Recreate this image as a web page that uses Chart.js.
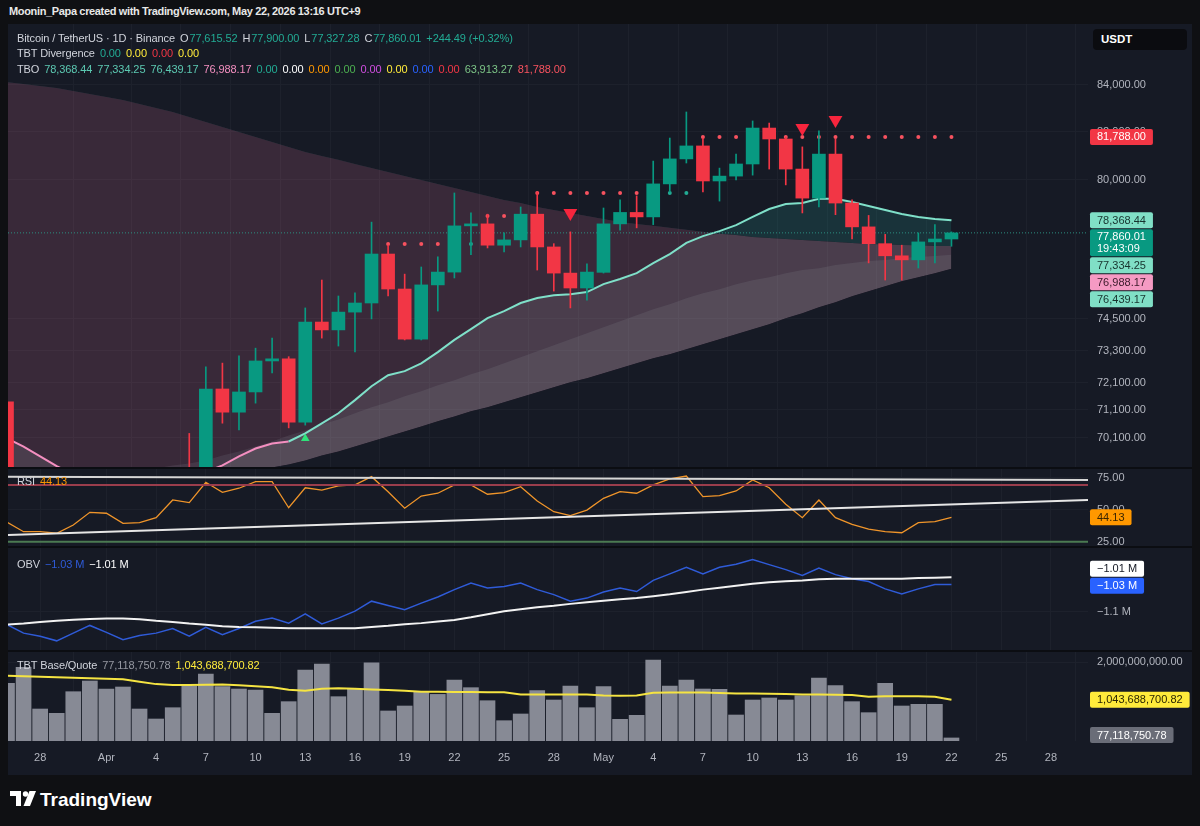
<!DOCTYPE html>
<html>
<head>
<meta charset="utf-8">
<script src="https://cdn.jsdelivr.net/npm/chart.js@4/dist/chart.umd.min.js"></script>
<style>
  html, body { margin: 0; padding: 0; }
  body { width: 1200px; height: 826px; background: #0f1013; position: relative; overflow: hidden; font-family: "Liberation Sans", Arial, sans-serif; }
  #frame { position: absolute; left: 8px; top: 24px; width: 1184px; height: 751px; background: #161a25; }
  canvas { position: absolute; left: 8px; }
  .sep { position: absolute; left: 8px; width: 1184px; height: 2px; background: #0b0d12; }
  .lg { position: absolute; left: 17px; font-size: 11px; letter-spacing: -0.1px; color: #d1d4dc; white-space: nowrap; line-height: 14px; }
  .lg b { font-weight: normal; margin-left: 5px; }
  .lg i { font-style: normal; margin-left: 5px; }
  .lg i + b { margin-left: 1px; }
  #hdr { position: absolute; left: 9px; top: 5px; font-size: 11px; letter-spacing: -0.35px; color: #e8e8e8; font-weight: bold; }
  #usdt { position: absolute; left: 1093px; top: 29px; width: 94px; height: 21px; background: #0b0c10; border-radius: 4px; color: #fff; font-size: 11.5px; font-weight: bold; line-height: 21px; padding-left: 8px; box-sizing: border-box; }
  #logo { position: absolute; left: 10px; top: 789px; color: #fff; font-size: 19px; font-weight: bold; }
  #logo svg { position: absolute; left: 0; top: 2px; }
  #logo span { position: absolute; left: 30px; top: 0; }
</style>
</head>
<body>
<div id="hdr">Moonin_Papa created with TradingView.com, May 22, 2026 13:16 UTC+9</div>
<div id="frame"></div>
<canvas id="cMain" width="1184" height="443" style="top:24px"></canvas>
<div class="sep" style="top:467px"></div>
<canvas id="cRsi" width="1184" height="77" style="top:469px"></canvas>
<div class="sep" style="top:546px"></div>
<canvas id="cObv" width="1184" height="102" style="top:548px"></canvas>
<div class="sep" style="top:650px"></div>
<canvas id="cVol" width="1184" height="123" style="top:652px"></canvas>
<div class="lg" id="lg1" style="top:31px"></div>
<div class="lg" id="lg2" style="top:46px"></div>
<div class="lg" id="lg3" style="top:62px"></div>
<div class="lg" id="lgRsi" style="top:474px"></div>
<div class="lg" id="lgObv" style="top:557px"></div>
<div class="lg" id="lgVol" style="top:658px"></div>
<div id="usdt">USDT</div>
<div id="logo">
  <svg width="26" height="16" viewBox="0 0 26 16"><path d="M0 0H11V15H6V5H0Z" fill="#fff"/><circle cx="15.5" cy="3" r="2.7" fill="#fff"/><path d="M19.5 0H26L20 15H13.5Z" fill="#fff"/></svg>
  <span>TradingView</span>
</div>
<script>
// daily candles, 26 Mar .. 22 May (index 0 = 26 Mar)
const opens  = [71400,68700,67300,67500,66500,67700,68500,68300,67200,67300,
                67800,68800,68500,71870,71020,71760,72910,72990,70660,74380,
                74080,74760,75110,77020,75650,73730,75810,76310,78140,78220,
                77370,77580,78610,77300,76270,75690,76300,78220,78680,78500,
                79840,80870,81410,79960,80160,80660,82160,81700,80450,79260,
                81070,79060,78100,77430,76950,76790,77500,77615.52];
const highs  = [71450,68950,67800,67700,68000,68800,68700,68400,67600,68000,
                68950,70250,72690,72830,73100,73390,73770,73070,74920,76000,
                75380,75500,78290,77370,76230,76510,76910,79470,78660,78610,
                77860,78900,79510,77430,77900,76630,78860,79190,79350,80780,
                81740,82840,81740,80490,81070,82460,82370,81780,81370,82040,
                81700,79190,78560,77800,77370,77860,78190,77900.00];
const lows   = [68300,66900,66600,66200,66300,67400,67600,66900,66800,67100,
                67600,68200,68300,70620,70380,71350,72460,70450,70550,73770,
                73470,73250,74500,75380,73700,73700,74800,76080,76990,77260,
                77100,77300,76390,75570,74920,75220,76270,77970,78060,78190,
                79510,80700,79510,79140,80000,80200,80450,79800,78660,78900,
                78590,77620,76670,76000,76000,76470,76670,77327.28];
const closes = [68700,67300,67500,66500,67700,68500,68300,67200,67300,67800,
                68800,68500,71870,71020,71760,72910,72990,70660,74380,74080,
                74760,75110,77020,75650,73730,75810,76310,78140,78220,77370,
                77580,78610,77300,76270,75690,76310,78220,78680,78500,79840,
                80870,81410,79960,80160,80660,82160,81700,80450,79260,81070,
                79060,78100,77430,76950,76790,77500,77615.52,77860.01];

// TBO band lines
const tboUpper = [84120,84040,83950,83870,83740,83610,83480,83350,83180,83010,
                  82840,82630,82420,82200,81990,81780,81570,81370,81160,80990,
                  80830,80660,80490,80330,80160,80000,79840,79670,79510,79350,
                  79180,79060,78900,78780,78660,78540,78420,78300,78220,78140,
                  78060,77980,77900,77820,77780,77700,77660,77620,77580,77540,
                  77500,77460,77420,77410,77380,77370,77340,77334.25];
const tboMid   = [68155,68259,68329,68435,68540,68610,68716,68822,68893,68999,
                  69106,69176,69283,69461,69604,69784,69963,70179,70359,70577,
                  70758,70977,71196,71379,71599,71783,72005,72190,72413,72599,
                  72824,73049,73274,73500,73727,73955,74183,74412,74641,74872,
                  75064,75296,75489,75645,75839,75995,76112,76269,76387,76465,
                  76584,76662,76741,76780,76859,76899,76939,76988.17];
const tboLower = [67180,67283,67422,67526,67630,67770,67874,67979,68119,68224,
                  68329,68435,68540,68646,68787,68893,69035,69141,69283,69461,
                  69604,69784,69963,70143,70323,70504,70686,70867,71050,71196,
                  71379,71562,71746,71931,72116,72264,72450,72636,72824,73011,
                  73161,73349,73538,73727,73917,74106,74297,74526,74718,74949,
                  75141,75373,75567,75761,75956,76112,76269,76439.17];
const tboFast  = [70070,69780,69430,69080,68800,68650,68550,68500,68480,68520,
                  68650,68650,68870,69110,69430,69710,69890,69960,70250,70610,
                  70980,71460,71970,72380,72530,72820,73240,73700,74110,74530,
                  74800,75110,75300,75410,75450,75530,75840,76040,76270,76660,
                  77020,77460,77730,77930,78170,78500,78820,79020,79060,79230,
                  79230,79100,78940,78780,78620,78500,78420,78368.44];
const fastTurn = 17;

// TBO level dots and signals
const dotsRed = [null,null,null,null,null,null,null,null,null,null,
                 null,null,null,null,null,null,null,null,null,null,
                 null,null,null,77420,77420,77420,77420,null,null,78540,
                 78540,null,79470,79470,79470,79470,79470,79470,79470,null,
                 null,null,81788,81788,81788,81788,81788,81788,81788,81788,
                 81788,81788,81788,81788,81788,81788,81788,81788];
const dotsGreen = [null,null,null,null,null,null,null,null,null,null,
                   null,null,null,null,null,null,null,null,null,null,
                   null,null,null,null,null,null,null,null,77420,null,
                   null,null,null,null,null,null,null,null,null,null,
                   79470,79470,null,null,null,null,null,null,null,null,
                   null,null,null,null,null,null,null,null];
const sellDay = [34, 48, 50];
const sellAt  = [78660, 82160, 82500];
const buyDay  = [18];
const buyAt   = [70070];

// lower panes
const rsi = [40.2,32.8,32.8,31.6,38.1,48.0,47.3,39.4,39.9,43.8,
             57.7,55.6,71.6,63.7,66.9,72.1,72.1,51.6,67.3,65.5,
             68.7,69.5,76.0,64.2,51.2,60.8,63.0,69.5,69.5,62.2,
             63.4,68.1,56.9,48.5,45.4,49.8,59.0,64.2,63.0,69.5,
             74.2,76.5,60.3,61.1,64.8,73.4,67.3,54.3,43.8,57.7,
             43.8,38.6,34.9,32.8,32.0,39.9,40.7,44.13];
const rsiTopTrend = [76.0, 73.4];
const rsiLowTrend = [30.2, 57.7];
const rsiRed = 69.5, rsiGreen = 25;

const obv = [-1.133,-1.155,-1.163,-1.175,-1.155,-1.135,-1.153,-1.172,-1.161,-1.155,
             -1.143,-1.163,-1.140,-1.159,-1.143,-1.124,-1.116,-1.129,-1.105,-1.131,
             -1.116,-1.098,-1.072,-1.083,-1.094,-1.077,-1.061,-1.042,-1.025,-1.038,
             -1.034,-1.025,-1.042,-1.055,-1.072,-1.064,-1.048,-1.038,-1.047,-1.018,
             -1.001,-0.984,-1.001,-0.984,-0.976,-0.964,-0.977,-0.990,-1.005,-0.986,
             -1.003,-1.014,-1.021,-1.040,-1.053,-1.040,-1.029,-1.029];
const obvMA = [-1.133,-1.130,-1.126,-1.123,-1.120,-1.118,-1.117,-1.117,-1.119,-1.123,
               -1.126,-1.130,-1.133,-1.137,-1.139,-1.140,-1.141,-1.142,-1.142,-1.142,
               -1.142,-1.142,-1.139,-1.136,-1.132,-1.129,-1.125,-1.121,-1.114,-1.106,
               -1.098,-1.093,-1.088,-1.084,-1.079,-1.075,-1.071,-1.067,-1.064,-1.059,
               -1.054,-1.048,-1.042,-1.037,-1.032,-1.027,-1.023,-1.020,-1.018,-1.015,
               -1.014,-1.014,-1.014,-1.014,-1.014,-1.012,-1.011,-1.010];

const volume = [1.46,1.866,0.81,0.70,1.248,1.519,1.316,1.367,0.81,0.557,
                0.843,1.392,1.696,1.375,1.316,1.291,0.70,0.996,1.797,1.949,
                1.122,1.308,1.982,0.76,0.886,1.248,1.18,1.544,1.35,1.02,
                0.514,0.684,1.274,1.038,1.392,0.843,1.375,0.549,0.65,2.05,
                1.392,1.544,1.316,1.308,0.658,1.038,1.089,1.038,1.147,1.595,
                1.401,0.996,0.717,1.46,0.886,0.928,0.928,0.07711875078];
const volMA = [1.653,1.640,1.628,1.615,1.603,1.590,1.576,1.562,1.500,1.440,
               1.420,1.420,1.425,1.430,1.410,1.385,1.359,1.300,1.274,1.320,
               1.334,1.320,1.305,1.291,1.270,1.248,1.245,1.240,1.238,1.235,
               1.232,1.180,1.175,1.180,1.178,1.175,1.150,1.145,1.150,1.223,
               1.230,1.228,1.225,1.215,1.205,1.200,1.195,1.190,1.180,1.175,
               1.170,1.165,1.122,1.130,1.135,1.130,1.120,1.04368870082];

// axis ticks
const tickDays   = [2,6,9,12,15,18,21,24,27,30,33,36,39,42,45,48,51,54,57,60,63];
const tickLabels = ['28','Apr','4','7','10','13','16','19','22','25','28','May','4','7','10','13','16','19','22','25','28'];
const priceTicks = [84000,82000,80000,74500,73300,72100,71100,70100];
const rsiTicks = [75,50,25];
const obvTicks = [-1.1];
const volTicks = [2];

// ---- layout / style
const X_MIN = 0.06, X_MAX = 65.24, AXW = 104;
const GRID = '#1d212c', TXT = '#b2b5be';
const UP = '#089981', DN = '#f23645';
const N = closes.length;
const f2 = v => v.toLocaleString('en-US', {minimumFractionDigits: 2, maximumFractionDigits: 2});
const pts = arr => arr.map((v, i) => ({x: i, y: v})).filter(p => p.y !== null);
const ends = (a, b) => [{x: X_MIN, y: a}, {x: X_MAX, y: b}];

Chart.defaults.font.family = '"Liberation Sans", Arial, sans-serif';
Chart.defaults.animation = false;
Chart.defaults.events = [];
Chart.defaults.plugins.legend.display = false;
Chart.defaults.plugins.tooltip.enabled = false;
const LAYOUT = {padding: 0, autoPadding: false};

function xScale(showTicks) {
  return {
    type: 'linear', min: X_MIN, max: X_MAX, offset: false,
    grid: {color: GRID, drawTicks: false}, border: {display: false},
    afterBuildTicks: s => { s.ticks = tickDays.map(v => ({value: v})); },
    afterFit: s => { s.height = showTicks ? 34 : 0; s.paddingLeft = 0; s.paddingRight = 0; },
    ticks: {display: showTicks, color: TXT, font: {size: 11}, padding: 10, maxRotation: 0, autoSkip: false,
            callback: (v, i) => tickLabels[i]}
  };
}
function yScale(extra, tickVals, fmt) {
  return Object.assign({
    position: 'right',
    afterFit: s => { s.width = AXW; s.paddingTop = 0; s.paddingBottom = 0; },
    afterBuildTicks: s => { s.ticks = tickVals.map(v => ({value: v})); },
    grid: {color: GRID, drawTicks: false}, border: {display: false},
    ticks: {color: TXT, font: {size: 11}, padding: 9, autoSkip: false, callback: fmt}
  }, extra);
}
function axisBoxes(items, nudge) {
  return {
    id: 'axisBoxes',
    afterDraw(chart) {
      const ctx = chart.ctx, sc = chart.scales.y, area = chart.chartArea;
      ctx.save();
      ctx.font = '11px "Liberation Sans", Arial, sans-serif';
      ctx.textBaseline = 'middle';
      let prev = -1e9;
      items.forEach(it => {
        const h = it.sub ? 27 : 16;
        let top = Math.max(sc.getPixelForValue(it.v) - h / 2, prev + 1);
        prev = top + h;
        top = Math.min(top + nudge, area.bottom + 2 - h);
        const lines = it.sub ? [it.t, it.sub] : [it.t];
        const w = Math.max(...lines.map(s => ctx.measureText(s).width)) + 14;
        ctx.fillStyle = it.bg;
        ctx.beginPath(); ctx.roundRect(area.right + 2, top, w, h, 2); ctx.fill();
        ctx.fillStyle = it.fg;
        lines.forEach((s, k) => ctx.fillText(s, area.right + 9, top + (it.sub ? 7.5 + k * 12 : h / 2 + 0.5)));
      });
      ctx.restore();
    }
  };
}

// ---- main pane
const candleCol = closes.map((c, i) => c >= opens[i] ? UP : DN);
const fastClamp = tboFast.map((v, i) => Math.min(v, tboUpper[i]));
const clear = 'rgba(0,0,0,0)';
const MINT = '#80dfc6';

new Chart(document.getElementById('cMain'), {
  type: 'bar',
  data: {datasets: [
    {type: 'line', data: pts(tboUpper), borderWidth: 0, pointRadius: 0, order: 30,
     fill: {target: 2, above: 'rgba(202,106,142,0.2)', below: 'rgba(202,106,142,0.2)'}},
    {type: 'line', data: pts(tboMid), borderWidth: 0, pointRadius: 0, order: 27,
     fill: {target: 2, above: 'rgba(185,195,205,0.10)', below: clear}},
    {type: 'line', data: pts(tboLower), borderWidth: 0, pointRadius: 0, order: 31, fill: false},
    {type: 'line', data: pts(fastClamp), borderWidth: 0, pointRadius: 0, order: 29,
     fill: {target: 2, above: 'rgba(165,182,185,0.15)', below: clear}},
    {type: 'line', data: pts(tboFast), borderWidth: 0, pointRadius: 0, order: 28,
     fill: {target: 0, above: 'rgba(38,166,154,0.18)', below: clear}},
    {type: 'line', data: pts(tboFast), borderWidth: 2, pointRadius: 0, order: 20, fill: false,
     segment: {borderColor: c => c.p0DataIndex < fastTurn ? '#f48fc0' : '#7fe0c9'}},
    {type: 'line', data: ends(closes[N - 1], closes[N - 1]), borderColor: '#2c8f80', borderWidth: 1,
     borderDash: [1, 2], pointRadius: 0, order: 19, fill: false},
    {type: 'line', data: pts(dotsRed), showLine: false, pointRadius: 2, pointBorderWidth: 0,
     pointBackgroundColor: '#f7525f', order: 15},
    {type: 'line', data: pts(dotsGreen), showLine: false, pointRadius: 2, pointBorderWidth: 0,
     pointBackgroundColor: '#22ab94', order: 15},
    {type: 'bar', data: lows.map((l, i) => ({x: i, y: [l, highs[i]]})), backgroundColor: candleCol,
     barThickness: 1, grouped: false, order: 10},
    {type: 'bar', data: opens.map((o, i) => ({x: i, y: [o, closes[i]]})), backgroundColor: candleCol,
     barThickness: 13, minBarLength: 1, grouped: false, order: 9},
    {type: 'line', data: sellDay.map((d, i) => ({x: d, y: sellAt[i]})), showLine: false, pointStyle: 'triangle',
     rotation: 180, pointRadius: 8, pointBorderWidth: 0, pointBackgroundColor: '#f7253d', order: 5},
    {type: 'line', data: buyDay.map((d, i) => ({x: d, y: buyAt[i]})), showLine: false, pointStyle: 'triangle',
     pointRadius: 5, pointBorderWidth: 0, pointBackgroundColor: '#2ee37a', order: 5}
  ]},
  options: {
    responsive: false, devicePixelRatio: 1, layout: LAYOUT,
    scales: {
      x: xScale(false),
      y: yScale({type: 'logarithmic', min: 69051, max: 86663}, priceTicks, v => f2(v))
    }
  },
  plugins: [axisBoxes([
    {v: dotsRed[N - 1], t: f2(dotsRed[N - 1]), bg: '#f23645', fg: '#ffffff'},
    {v: tboFast[N - 1], t: f2(tboFast[N - 1]), bg: MINT, fg: '#17332e'},
    {v: closes[N - 1], t: f2(closes[N - 1]), sub: '19:43:09', bg: '#089981', fg: '#ffffff'},
    {v: tboUpper[N - 1], t: f2(tboUpper[N - 1]), bg: MINT, fg: '#17332e'},
    {v: tboMid[N - 1], t: f2(tboMid[N - 1]), bg: '#f59ac3', fg: '#3a1a2a'},
    {v: tboLower[N - 1], t: f2(tboLower[N - 1]), bg: MINT, fg: '#17332e'}
  ], 0)]
});

// ---- RSI pane
new Chart(document.getElementById('cRsi'), {
  type: 'line',
  data: {datasets: [
    {data: ends(rsiTopTrend[0], rsiTopTrend[1]), borderColor: '#d6d6d6', borderWidth: 2, pointRadius: 0},
    {data: ends(rsiRed, rsiRed), borderColor: '#9a3d4c', borderWidth: 2, pointRadius: 0},
    {data: ends(rsiGreen, rsiGreen), borderColor: '#4b7a52', borderWidth: 2, pointRadius: 0},
    {data: ends(rsiLowTrend[0], rsiLowTrend[1]), borderColor: '#e6e6e6', borderWidth: 2, pointRadius: 0},
    {data: pts(rsi), borderColor: '#f0952a', borderWidth: 1.3, pointRadius: 0}
  ]},
  options: {
    responsive: false, devicePixelRatio: 1, layout: LAYOUT,
    scales: {x: xScale(false), y: yScale({min: 21.6, max: 82.0}, rsiTicks, v => f2(v))}
  },
  plugins: [axisBoxes([{v: rsi[N - 1], t: f2(rsi[N - 1]), bg: '#ff9800', fg: '#3a2500'}], 0)]
});

// ---- OBV pane
const fm = v => (v < 0 ? '\u2212' : '') + Math.abs(v).toFixed(2).replace(/0$/, '') + ' M';
new Chart(document.getElementById('cObv'), {
  type: 'line',
  data: {datasets: [
    {data: pts(obvMA), borderColor: '#f2f2f2', borderWidth: 2, pointRadius: 0},
    {data: pts(obv), borderColor: '#2f5bd8', borderWidth: 1.5, pointRadius: 0}
  ]},
  options: {
    responsive: false, devicePixelRatio: 1, layout: LAYOUT,
    scales: {x: xScale(false), y: yScale({min: -1.1988, max: -0.9339}, obvTicks, v => fm(v))}
  },
  plugins: [axisBoxes([
    {v: obvMA[N - 1], t: fm(obvMA[N - 1]), bg: '#ffffff', fg: '#131722'},
    {v: obv[N - 1], t: fm(obv[N - 1]), bg: '#2962ff', fg: '#ffffff'}
  ], -8.5)]
});

// ---- volume pane (values in billions)
const fv = v => f2(v * 1e9);
new Chart(document.getElementById('cVol'), {
  type: 'bar',
  data: {datasets: [
    {type: 'line', data: pts(volMA), borderColor: '#f5e442', borderWidth: 2, pointRadius: 0, order: 1},
    {data: pts(volume), backgroundColor: '#878a95', barThickness: 15, grouped: false, order: 2}
  ]},
  options: {
    responsive: false, devicePixelRatio: 1, layout: LAYOUT,
    scales: {x: xScale(true), y: yScale({min: 0, max: 2.2532}, volTicks, v => fv(v))}
  },
  plugins: [axisBoxes([
    {v: volMA[N - 1], t: fv(volMA[N - 1]), bg: '#ffeb3b', fg: '#2a2600'},
    {v: volume[N - 1], t: fv(volume[N - 1]), bg: '#6a6d78', fg: '#ffffff'}
  ], 0)]
});

// ---- legends
const b = (t, c) => `<b style="color:${c}">${t}</b>`;
const k = t => `<i>${t}</i>`;
const G = '#22ab94';
const chg = closes[N - 1] - closes[N - 2];
document.getElementById('lg1').innerHTML = 'Bitcoin / TetherUS \u00b7 1D \u00b7 Binance' +
  k('O') + b(f2(opens[N - 1]), G) + k('H') + b(f2(highs[N - 1]), G) +
  k('L') + b(f2(lows[N - 1]), G) + k('C') + b(f2(closes[N - 1]), G) +
  b('+' + f2(chg) + ' (+' + (chg / closes[N - 2] * 100).toFixed(2) + '%)', G);
document.getElementById('lg2').innerHTML = 'TBT Divergence' + b('0.00', G) + b('0.00', '#ffeb3b') + b('0.00', '#f23645') + b('0.00', '#ffeb3b');
document.getElementById('lg3').innerHTML = 'TBO' + b(f2(tboFast[N - 1]), '#5cc9b2') + b(f2(tboUpper[N - 1]), '#5cc9b2') +
  b(f2(tboLower[N - 1]), '#5cc9b2') + b(f2(tboMid[N - 1]), '#f48fc0') + b('0.00', G) + b('0.00', '#ffffff') +
  b('0.00', '#ff9800') + b('0.00', '#4caf50') + b('0.00', '#d04ee0') + b('0.00', '#ffeb3b') + b('0.00', '#2962ff') +
  b('0.00', '#f23645') + b('63,913.27', '#7cc486') + b(f2(dotsRed[N - 1]), '#f7525f');
document.getElementById('lgRsi').innerHTML = 'RSI' + b(f2(rsi[N - 1]), '#ff9800');
document.getElementById('lgObv').innerHTML = 'OBV' + b(fm(obv[N - 1]), '#2f5bd8') + b(fm(obvMA[N - 1]), '#ffffff');
document.getElementById('lgVol').innerHTML = 'TBT Base/Quote' + b(fv(volume[N - 1]), '#9598a1') + b(fv(volMA[N - 1]), '#ffeb3b');
</script>
</body>
</html>
